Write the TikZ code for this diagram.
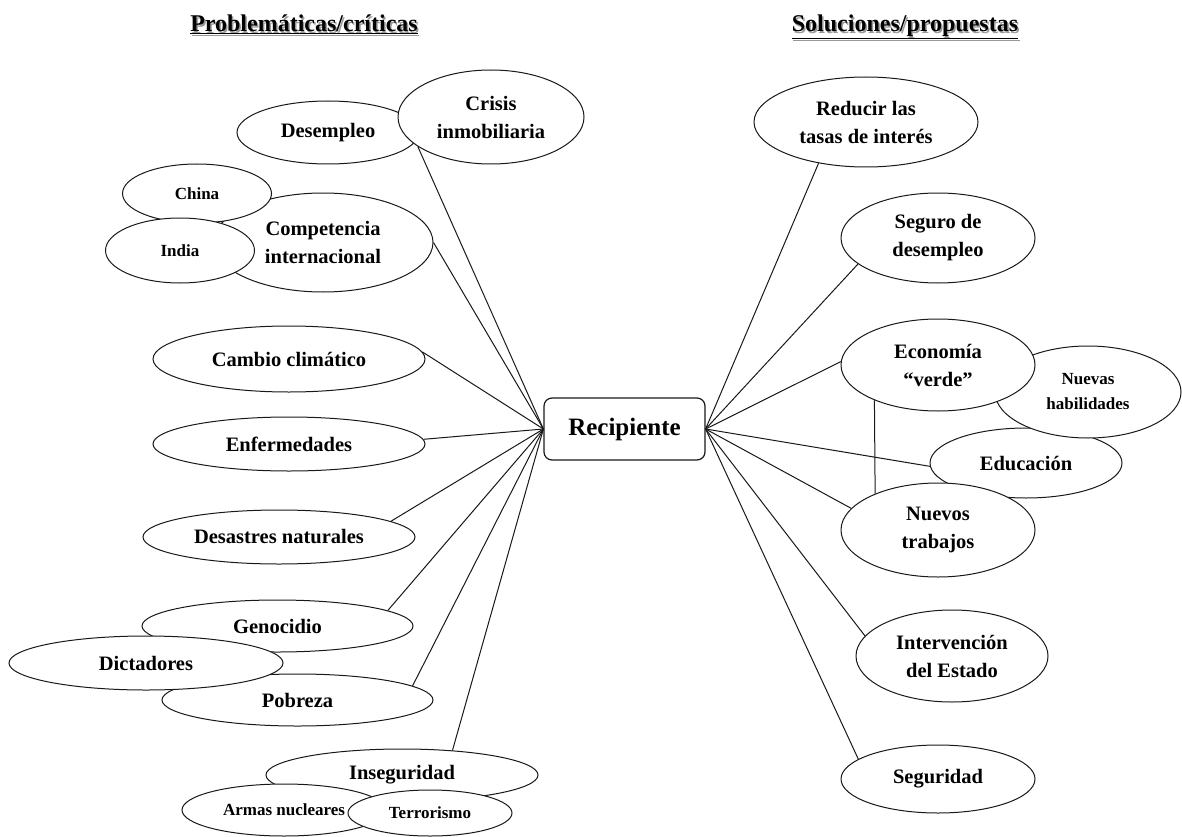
\documentclass[tikz,border=0pt]{standalone}
\usepackage{fontspec}
\setmainfont{Liberation Serif}
\usetikzlibrary{shapes.geometric}
\tikzset{
  ell/.style={ellipse, draw=black!90, line width=1pt, fill=white, inner sep=0pt, align=center, font=\fontsize{20.5}{28}\selectfont\bfseries},
  smallell/.style={ell, font=\fontsize{17}{25}\selectfont\bfseries},
  conn/.style={draw=black!90, line width=1pt},
  ttl/.style={font=\fontsize{24}{28}\selectfont\bfseries, inner sep=0pt, anchor=base},
  ttlshadow/.style={ttl, text=black!40},
  centerbox/.style={draw=black!90, fill=white, rounded corners=8pt, line width=1.2pt, inner sep=0pt, font=\fontsize{25}{28}\selectfont\bfseries}
}
\begin{document}
\begin{tikzpicture}[x=1pt,y=-1pt]
\useasboundingbox[fill=white] (0,0) rectangle (1182,837);

% titles
\node[ttlshadow] (t1s) at (305.5,33.5) {\underline{Problemáticas/críticas}};
\node[ttl] (t1) at (304,32) {\underline{Problemáticas/críticas}};
\node[ttlshadow] (t2s) at (906.5,33.5) {\underline{Soluciones/propuestas}};
\node[ttl] (t2) at (905,32) {\underline{Soluciones/propuestas}};

% left side
\node[ell, minimum width=220pt, minimum height=99pt] (comp) at (323,242.5) {Competencia\\internacional};
\node[smallell, minimum width=149pt, minimum height=59pt] (china) at (197,193.5) {China};
\node[smallell, minimum width=149pt, minimum height=65pt] (india) at (180,250.5) {India};
\node[ell, minimum width=182pt, minimum height=63pt] (desemp) at (328,132.5) {Desempleo};
\node[ell, minimum width=186pt, minimum height=94pt] (crisis) at (491,117) {Crisis\\inmobiliaria};
\node[ell, minimum width=272pt, minimum height=66pt] (cambio) at (289,359) {Cambio climático};
\node[ell, minimum width=272pt, minimum height=54pt] (enferm) at (289,444) {Enfermedades};
\node[ell, minimum width=272pt, minimum height=54pt] (desast) at (279,537) {Desastres naturales};
\node[ell, minimum width=271pt, minimum height=52pt] (genoc) at (277.5,626) {Genocidio};
\node[ell, minimum width=271pt, minimum height=52pt] (pobre) at (297.5,700) {Pobreza};
\node[ell, minimum width=274pt, minimum height=54pt] (dicta) at (146,663) {Dictadores};
\node[ell, minimum width=272pt, minimum height=52pt] (inseg) at (402,775) {Inseguridad};
\node[smallell, minimum width=204pt, minimum height=52pt] (armas) at (284,810) {Armas nucleares};
\node[smallell, minimum width=164pt, minimum height=46pt] (terror) at (430,813) {Terrorismo};

% center
\node[centerbox, minimum width=161pt, minimum height=62pt] (recip) at (624.5,429) {Recipiente};

% right side
\node[ell, minimum width=224pt, minimum height=90pt] (reduc) at (866,122) {Reducir las\\tasas de interés};
\node[ell, minimum width=194pt, minimum height=90pt] (seguro) at (938,238) {Seguro de\\desempleo};
\node[ell, minimum width=192pt, minimum height=70pt] (educ) at (1026,463) {Educación};
\node[smallell, minimum width=186pt, minimum height=92pt] (nhab) at (1088,392) {Nuevas\\habilidades};
\node[ell, minimum width=194pt, minimum height=92pt] (eco) at (938,365) {Economía\\“verde”};
\node[ell, minimum width=194pt, minimum height=94pt] (ntrab) at (938,530) {Nuevos\\trabajos};
\node[ell, minimum width=192pt, minimum height=92pt] (interv) at (952,656) {Intervención\\del Estado};
\node[ell, minimum width=194pt, minimum height=68pt] (segur) at (938,779) {Seguridad};

% connectors left
\draw[conn] (crisis.202) -- (recip.west);
\draw[conn] (comp.east) -- (recip.west);
\draw[conn] (cambio.3) -- (recip.west);
\draw[conn] (enferm.2) -- (recip.west);
\draw[conn] (desast.8.4) -- (recip.west);
\draw[conn] (genoc.8.8) -- (recip.west);
\draw[conn] (pobre.7.4) -- (recip.west);
\draw[conn] (inseg.26.6) -- (recip.west);

% connectors right
\draw[conn] (reduc.221) -- (recip.east);
\draw[conn] (seguro.198) -- (recip.east);
\draw[conn] (eco.178) -- (recip.east);
\draw[conn] (educ.182) -- (recip.east);
\draw[conn] (ntrab.166) -- (recip.east);
\draw[conn] (interv.167) -- (recip.east);
\draw[conn] (segur.166) -- (recip.east);
\draw[conn] (eco.209) -- (ntrab.150.5);
\end{tikzpicture}
\end{document}
